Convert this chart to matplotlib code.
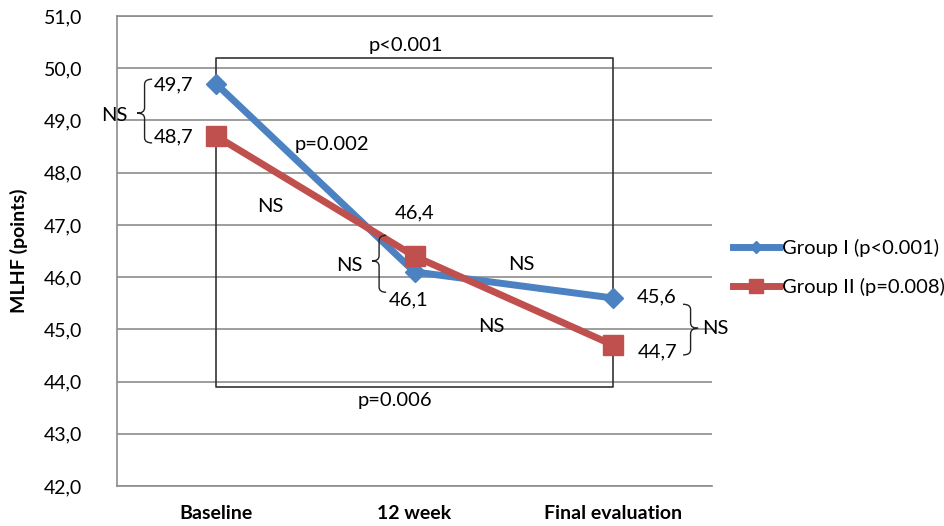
import numpy as np
import matplotlib
matplotlib.use("Agg")
import matplotlib.pyplot as plt
from matplotlib.path import Path
from matplotlib.patches import PathPatch
from matplotlib.lines import Line2D

plt.rcParams['font.family'] = ['Lato', 'DejaVu Sans']

# data
categories = ['Baseline', '12 week', 'Final evaluation']
group1 = [49.7, 46.1, 45.6]
group2 = [48.7, 46.4, 44.7]
group_labels = ['Group I (p<0.001)', 'Group II (p=0.008)']
yticks = [42, 43, 44, 45, 46, 47, 48, 49, 50, 51]
ytick_labels = ['%.1f' % v for v in yticks]
ytick_labels = [s.replace('.', ',') for s in ytick_labels]

BLUE = '#4C82C2'
RED = '#C0504D'
GRID = '#8C8C8C'


def fmt(v):
    return ('%.1f' % v).replace('.', ',')


def brace(ax, x_end, x_tip, y0, y1, ym, d=0.1):
    # curly brace between y0 and y1, ends at x_end, point at x_tip
    xm = (x_end + x_tip) / 2
    verts = [(x_end, y1), (xm, y1), (xm, y1 - d), (xm, ym + d),
             (xm, ym), (x_tip, ym), (xm, ym), (xm, ym - d),
             (xm, y0 + d), (xm, y0), (x_end, y0)]
    codes = [Path.MOVETO, Path.CURVE3, Path.CURVE3, Path.LINETO,
             Path.CURVE3, Path.CURVE3, Path.CURVE3, Path.CURVE3,
             Path.LINETO, Path.CURVE3, Path.CURVE3]
    ax.add_patch(PathPatch(Path(verts, codes), fill=False, lw=1.0,
                           edgecolor='#222222', clip_on=False, zorder=5))


fig = plt.figure(figsize=(9.44, 5.26), dpi=100)
ax = fig.add_axes([117 / 944, 1 - 486 / 526, 595 / 944, 470 / 526])

x = np.arange(len(categories))

# comparison brackets baseline vs final
top_level = 50.2
bottom_level = 43.9
ax.plot([x[0], x[0], x[2], x[2]], [group1[0], top_level, top_level, group1[2]],
        color='#333333', lw=1.2, zorder=2)
ax.plot([x[0], x[0], x[2], x[2]], [group2[0], bottom_level, bottom_level, group2[2]],
        color='#333333', lw=1.2, zorder=2)

ax.plot(x, group1, color=BLUE, lw=5, marker='D', ms=10.5, zorder=3)
ax.plot(x, group2, color=RED, lw=5, marker='s', ms=14.5, zorder=4)

ax.set_xlim(-0.5, 2.5)
ax.set_ylim(42, 51)
ax.set_yticks(yticks)
ax.set_yticklabels(ytick_labels, fontsize=14)
ax.set_xticks(x)
ax.set_xticklabels(categories, fontsize=14, fontweight='bold')
ax.tick_params(axis='y', length=0, pad=25)
ax.tick_params(axis='x', length=0, pad=14)
ax.grid(axis='y', color=GRID, lw=1.2)
ax.set_axisbelow(True)
for side in ['left', 'top', 'bottom']:
    ax.spines[side].set_color(GRID)
    ax.spines[side].set_linewidth(1.2)
ax.spines['right'].set_visible(False)

ax.set_ylabel('MLHF (points)', fontsize=14, fontweight='bold')
ax.yaxis.set_label_coords(-0.150, 0.5)

# annotations
fs = 14.5
ax.text(0.957, 50.44, 'p<0.001', fontsize=fs, ha='center', va='center')
ax.text(0.90, 43.64, 'p=0.006', fontsize=fs, ha='center', va='center')
ax.text(0.585, 48.53, 'p=0.002', fontsize=fs, ha='center', va='center')
ax.text(0.273, 47.36, 'NS', fontsize=fs, ha='center', va='center')
ax.text(1.54, 46.25, 'NS', fontsize=fs, ha='center', va='center')
ax.text(1.386, 45.06, 'NS', fontsize=fs, ha='center', va='center')

# value labels
ax.text(-0.216, 49.68, fmt(group1[0]), fontsize=fs, ha='center', va='center')
ax.text(-0.216, 48.68, fmt(group2[0]), fontsize=fs, ha='center', va='center')
ax.text(1.0, 47.23, fmt(group2[1]), fontsize=fs, ha='center', va='center')
ax.text(0.968, 45.56, fmt(group1[1]), fontsize=fs, ha='center', va='center')
ax.text(2.223, 45.62, fmt(group1[2]), fontsize=fs, ha='center', va='center')
ax.text(2.228, 44.56, fmt(group2[2]), fontsize=fs, ha='center', va='center')

# braces with NS between groups
brace(ax, -0.323, -0.399, 48.57, 49.79, 49.14)
ax.text(-0.515, 49.10, 'NS', fontsize=fs, ha='center', va='center', clip_on=False)
brace(ax, 0.857, 0.786, 45.71, 46.80, 46.31)
ax.text(0.67, 46.23, 'NS', fontsize=fs, ha='center', va='center')
brace(ax, 2.354, 2.43, 44.51, 45.48, 45.02)
ax.text(2.516, 45.02, 'NS', fontsize=fs, ha='center', va='center', clip_on=False)

handles = [Line2D([], [], color=BLUE, lw=5, marker='D', ms=6.5),
           Line2D([], [], color=RED, lw=5, marker='s', ms=9.5)]
fig.legend(handles, group_labels, loc='upper left', bbox_to_anchor=(733 / 944, 1 - 239 / 526),
           frameon=False, fontsize=14.5, handlelength=2.3, handletextpad=0.15,
           labelspacing=1.02, borderpad=0, borderaxespad=0)

fig.savefig('out.png', dpi=100)
